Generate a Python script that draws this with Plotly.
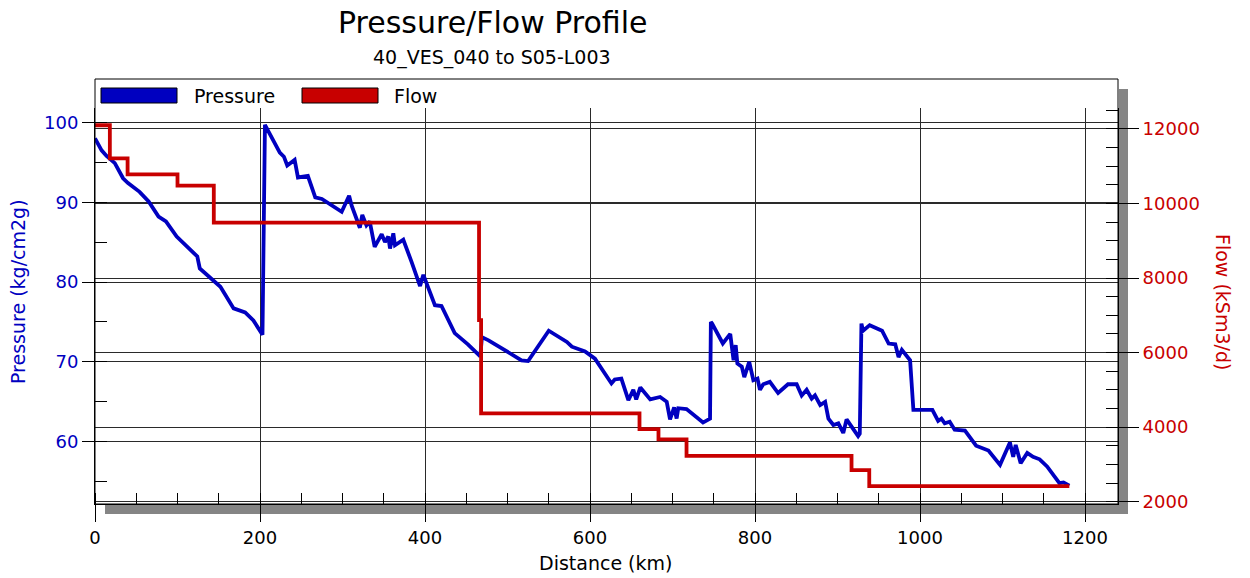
import plotly.graph_objects as go

# ---------------- data ----------------
pressure_dist = [0, 8, 14, 24, 34, 40, 54, 65, 77, 86, 99, 115, 124, 127, 143, 152, 168, 182, 192, 203,
                 206, 224, 229, 233, 242, 246, 258, 267, 275, 299, 308, 311, 321, 324, 329, 333, 339,
                 347.5, 351.5, 355.5, 357.6, 361.6, 363.6, 373.7, 383.8, 394, 398, 412, 420, 436, 452,
                 465, 467, 469, 477, 517, 525, 550, 572, 578, 594, 606, 626, 630, 638, 646.5, 652.5,
                 656, 661, 673, 685, 693, 697, 702, 705, 707, 717, 737, 745.5, 746.5, 748, 761, 770,
                 774, 776.6, 778.6, 784, 787, 793, 798, 803, 806, 810, 818, 828, 840, 850.5, 856.6,
                 862.6, 868.7, 872.7, 879, 885, 889, 895, 901, 907, 911, 917, 925, 927, 929, 931, 939,
                 954, 962, 970, 974, 978, 988, 992, 1015, 1022, 1026, 1030, 1036, 1042, 1054.5, 1068,
                 1083, 1097, 1109, 1113, 1116, 1122, 1130, 1137, 1145, 1154, 1162, 1169, 1174, 1181]
pressure_vals = [98.0, 96.5, 95.8, 94.9, 93.0, 92.4, 91.3, 90.1, 88.2, 87.6, 85.7, 84.2, 83.2, 81.7, 80.25,
                 79.4, 76.7, 76.2, 75.2, 73.4,
                 99.7, 96.2, 95.7, 94.6, 95.3, 93.1, 93.3, 90.6, 90.4, 88.8, 90.8, 89.6, 86.8, 88.4, 87.1,
                 87.6, 84.4, 86.0, 85.0, 85.7, 84.2, 86.1, 84.6, 85.3, 82.5, 79.5, 80.9, 77.1, 77.0, 73.6,
                 72.2, 70.8, 70.7, 73.1, 72.7, 70.2, 70.1, 73.9, 72.5, 71.9, 71.3, 70.4, 67.3, 67.8, 67.9,
                 65.2, 66.5, 65.3, 66.8, 65.3, 65.6, 65.0, 62.8, 64.3, 62.9, 64.2, 64.1, 62.4, 62.9, 75.0,
                 74.8, 72.3, 73.5, 70.2, 72.1, 69.8, 69.4, 68.1, 70.0, 67.7, 67.9, 66.5, 67.2, 67.5, 66.1,
                 67.2, 67.2, 65.8, 66.5, 65.4, 65.8, 64.6, 65.0, 62.9, 62.1, 62.3, 61.1, 62.8, 61.9, 60.7,
                 61.0, 74.8, 73.9, 74.6, 73.9, 72.3, 72.2, 70.6, 71.5, 70.2, 64.0, 64.0, 62.6, 62.9, 62.3,
                 62.5, 61.5, 61.4, 59.5, 58.9, 57.1, 59.9, 58.1, 59.6, 57.3, 58.6, 58.1, 57.8, 56.9, 55.8,
                 54.8, 54.9, 54.5]

flow_dist = [0, 18, 39.5, 100, 144, 465.5, 468, 660, 683, 717, 917, 938.5, 1181]
flow_vals = [12100, 11210, 10780, 10480, 9485, 6870, 4370, 3945, 3670, 3230, 2845, 2420, 2420]

x_ticks = [0, 200, 400, 600, 800, 1000, 1200]
p_ticks = [60, 70, 80, 90, 100]
f_ticks = [2000, 4000, 6000, 8000, 10000, 12000]

# ---------------- style ----------------
BLUE = "#0000C0"
RED = "#C80000"
FONT = "DejaVu Sans"
W, H = 1250, 578
L, R, T, B = 95, 1118, 108, 504  # plot area in px


def fx(xp):
    return (xp - L) / (R - L)


def fy(yp):
    return (B - yp) / (B - T)


fig = go.Figure()
fig.add_trace(go.Scatter(x=pressure_dist, y=pressure_vals, mode="lines", name="Pressure",
                         line=dict(color=BLUE, width=3.8), yaxis="y", showlegend=False))
fig.add_trace(go.Scatter(x=flow_dist, y=flow_vals, mode="lines", name="Flow",
                         line=dict(color=RED, width=3.8, shape="hv"), yaxis="y2", showlegend=False))

grid_col = "#2a2a2a"

fig.update_layout(
    width=W, height=H, autosize=False,
    margin=dict(l=L, r=W - R, t=T, b=H - B, pad=0),
    paper_bgcolor="white", plot_bgcolor="white",
    font=dict(family=FONT, size=18, color="black"),
    xaxis=dict(range=[0, 1240], tickvals=x_ticks, showgrid=True, gridcolor=grid_col, gridwidth=1,
               zeroline=False, showline=True, linecolor="black", linewidth=1,
               ticks="outside", ticklen=17, tickcolor="black", tickwidth=1,
               tickfont=dict(size=18, color="black"), automargin=False,
               minor=dict(dtick=50, ticks="inside", ticklen=11, tickcolor="black", showgrid=False)),
    yaxis=dict(range=[52.2, 101.8], tickvals=p_ticks, showgrid=True, gridcolor=grid_col, gridwidth=1,
               zeroline=False, showline=True, linecolor="black", linewidth=1,
               ticks="outside", ticklen=12, tickcolor="black", tickwidth=1,
               tickfont=dict(size=18, color=BLUE), automargin=False,
               minor=dict(dtick=5, ticks="inside", ticklen=12, tickcolor="black", showgrid=False)),
    yaxis2=dict(range=[1938, 12563], tickvals=f_ticks, tickformat="d", overlaying="y", side="right",
                showgrid=True, gridcolor=grid_col, gridwidth=1,
                zeroline=False, showline=True, linecolor="black", linewidth=1,
                ticks="outside", ticklen=20, tickcolor="black", tickwidth=1,
                tickfont=dict(size=18, color=RED), automargin=False,
                minor=dict(dtick=500, ticks="inside", ticklen=12, tickcolor="black", showgrid=False)),
)

shapes = []
# shadow
shapes.append(dict(type="rect", xref="paper", yref="paper", x0=fx(R + 1), x1=fx(R + 10),
                   y0=fy(514), y1=fy(89), fillcolor="#858585", line=dict(width=0), layer="below"))
shapes.append(dict(type="rect", xref="paper", yref="paper", x0=fx(105), x1=fx(R + 10),
                   y0=fy(514), y1=fy(B + 1), fillcolor="#858585", line=dict(width=0), layer="below"))
# frame
shapes.append(dict(type="rect", xref="paper", yref="paper", x0=0, x1=1, y0=0, y1=fy(79),
                   line=dict(color="black", width=1), fillcolor="rgba(0,0,0,0)", layer="above"))
# legend swatches
shapes.append(dict(type="rect", xref="paper", yref="paper", x0=fx(101), x1=fx(177), y0=fy(103), y1=fy(88),
                   fillcolor=BLUE, line=dict(color="black", width=1), layer="above"))
shapes.append(dict(type="rect", xref="paper", yref="paper", x0=fx(302), x1=fx(378), y0=fy(103), y1=fy(88),
                   fillcolor=RED, line=dict(color="black", width=1), layer="above"))

annotations = [
    dict(text="Pressure/Flow Profile", x=fx(493), y=fy(22), xref="paper", yref="paper",
         xanchor="center", yanchor="middle", showarrow=False, font=dict(size=30, color="black")),
    dict(text="40_VES_040 to S05-L003", x=fx(492), y=fy(58), xref="paper", yref="paper",
         xanchor="center", yanchor="middle", showarrow=False, font=dict(size=19, color="black")),
    dict(text="Pressure", x=fx(192), y=fy(95.5), xref="paper", yref="paper",
         xanchor="left", yanchor="middle", showarrow=False, font=dict(size=19, color="black")),
    dict(text="Flow", x=fx(392), y=fy(95.5), xref="paper", yref="paper",
         xanchor="left", yanchor="middle", showarrow=False, font=dict(size=19, color="black")),
    dict(text="Distance (km)", x=fx(605), y=fy(563), xref="paper", yref="paper",
         xanchor="center", yanchor="middle", showarrow=False, font=dict(size=19, color="black")),
    dict(text="Pressure (kg/cm2g)", x=fx(18), y=fy(292), xref="paper", yref="paper", textangle=-90,
         xanchor="center", yanchor="middle", showarrow=False, font=dict(size=19, color=BLUE)),
    dict(text="Flow (kSm3/d)", x=fx(1223), y=fy(302), xref="paper", yref="paper", textangle=90,
         xanchor="center", yanchor="middle", showarrow=False, font=dict(size=19, color=RED)),
]

fig.update_layout(shapes=shapes, annotations=annotations)
fig.write_html("out.html", config={"displayModeBar": False},
               post_script="document.body.style.margin='0px';")
